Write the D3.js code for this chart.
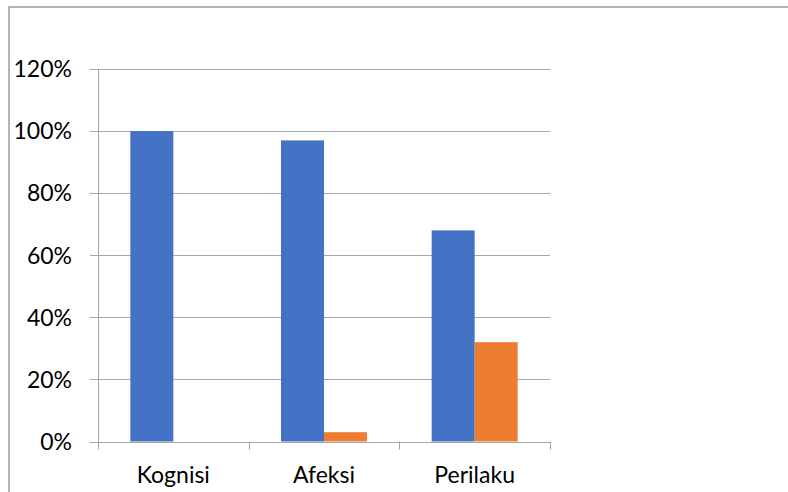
<!DOCTYPE html>
<html>
<head>
<meta charset="UTF-8">
<script src="https://cdn.jsdelivr.net/npm/d3@7"></script>
<style>
  body { margin: 0; background: #fff; }
  svg { display: block; font-family: Lato, "Open Sans", sans-serif; }
</style>
</head>
<body>
<svg width="788" height="492"></svg>
<script>
  // data
  const categories = ['Kognisi', 'Afeksi', 'Perilaku'];
  const seriesNames = ['s1', 's2'];
  const series1 = [100, 97, 68];
  const series2 = [0, 3, 32];
  const yTicks = [0, 20, 40, 60, 80, 100, 120];
  const colors = ['#4472c4', '#ed7d31'];

  const svg = d3.select('svg');

  // outer frame
  svg.append('rect')
    .attr('x', 9).attr('y', 7)
    .attr('width', 800).attr('height', 500)
    .attr('fill', 'none')
    .attr('stroke', '#8e8e8e')
    .attr('stroke-width', 1.3);

  const plotLeft = 98, plotRight = 550, plotTop = 69, plotBottom = 441.5;

  const x0 = d3.scaleBand().domain(categories).range([plotLeft, plotRight]);
  const x1 = d3.scaleBand().domain(seriesNames).range([0, 86]);
  const y = d3.scaleLinear().domain([0, 120]).range([plotBottom, plotTop]);

  // gridlines
  svg.append('g')
    .selectAll('line')
    .data(yTicks)
    .join('line')
    .attr('x1', plotLeft - 8).attr('x2', plotRight)
    .attr('y1', d => Math.round(y(d)) + 0.5)
    .attr('y2', d => Math.round(y(d)) + 0.5)
    .attr('stroke', '#a6a6a6')
    .attr('stroke-width', 1);

  // y axis line
  svg.append('line')
    .attr('x1', plotLeft + 0.5).attr('x2', plotLeft + 0.5)
    .attr('y1', plotTop).attr('y2', plotBottom + 8)
    .attr('stroke', '#a6a6a6');

  // x ticks at category boundaries
  const bounds = categories.map(c => x0(c)).concat([plotRight]);
  svg.append('g')
    .selectAll('line')
    .data(bounds.slice(1))
    .join('line')
    .attr('x1', d => Math.round(d) + 0.5).attr('x2', d => Math.round(d) + 0.5)
    .attr('y1', plotBottom).attr('y2', plotBottom + 8)
    .attr('stroke', '#a6a6a6');

  // bars
  const rows = categories.map((c, i) => ({ cat: c, vals: [series1[i], series2[i]] }));
  const g = svg.append('g');
  rows.forEach(r => {
    const off = x0(r.cat) + (x0.bandwidth() - 86) / 2;
    r.vals.forEach((v, j) => {
      if (v <= 0) return;
      g.append('rect')
        .attr('x', off + x1(seriesNames[j]))
        .attr('y', y(v))
        .attr('width', x1.bandwidth())
        .attr('height', y(0) - y(v))
        .attr('fill', colors[j]);
    });
  });

  // y labels
  svg.append('g')
    .selectAll('text')
    .data(yTicks)
    .join('text')
    .attr('x', 72)
    .attr('y', d => y(d))
    .attr('dy', '0.36em')
    .attr('text-anchor', 'end')
    .attr('font-size', 23)
    .attr('fill', '#000')
    .text(d => d + '%');

  // category labels
  svg.append('g')
    .selectAll('text')
    .data(categories)
    .join('text')
    .attr('x', d => x0(d) + x0.bandwidth() / 2)
    .attr('y', 483)
    .attr('text-anchor', 'middle')
    .attr('font-size', 23)
    .attr('fill', '#000')
    .text(d => d);
</script>
</body>
</html>
